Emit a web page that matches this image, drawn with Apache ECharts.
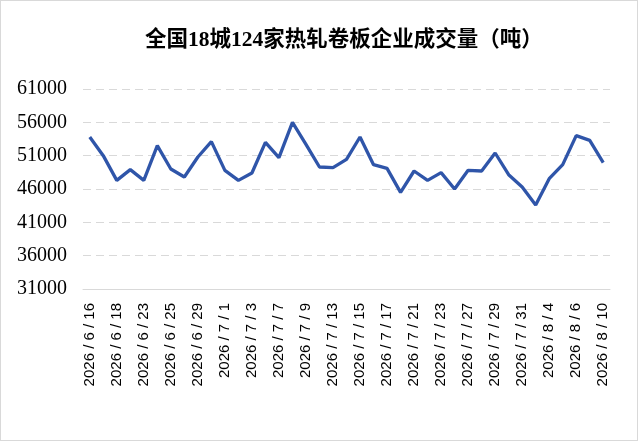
<!DOCTYPE html>
<html>
<head>
<meta charset="utf-8">
<script src="https://cdn.jsdelivr.net/npm/echarts@6/dist/echarts.min.js"></script>
<style>
    html, body {margin:0; padding:0; background:#fff}
    #chart {width:636px; height:439px; border:1px solid #d9d9d9}
</style>
</head>
<body>
<div id="chart"></div>
<script>
var dates = ['2026/6/16','2026/6/17','2026/6/18','2026/6/22','2026/6/23','2026/6/24','2026/6/25','2026/6/26',
    '2026/6/29','2026/6/30','2026/7/1','2026/7/2','2026/7/3','2026/7/6','2026/7/7','2026/7/8','2026/7/9',
    '2026/7/10','2026/7/13','2026/7/14','2026/7/15','2026/7/16','2026/7/17','2026/7/20','2026/7/21',
    '2026/7/22','2026/7/23','2026/7/24','2026/7/27','2026/7/28','2026/7/29','2026/7/30','2026/7/31',
    '2026/8/3','2026/8/4','2026/8/5','2026/8/6','2026/8/7','2026/8/10']
var volumes = [53800, 51000, 47300, 48900, 47300, 52500, 49000, 47800, 50800, 53100,
    48800, 47300, 48400, 53000, 50700, 56000, 52700, 49300, 49200, 50450,
    53800, 49650, 49100, 45500, 48700, 47300, 48450, 46000, 48800, 48700,
    51400, 48150, 46300, 43600, 47550, 49650, 54000, 53300, 49950]
var yTicks = {min: 31000, max: 61000, interval: 5000}

var myChart = echarts.init(document.getElementById('chart'))
var option = {
    animation: false,
    title: {
        text: '全国18城124家热轧卷板企业成交量（吨）',
        left: 139,
        top: 24,
        textStyle: {
            fontFamily: '"Liberation Serif", "Noto Sans CJK SC"',
            fontWeight: 'bold',
            fontSize: 21.5,
            color: '#000'
        }
    },
    grid: {left: 82, right: 27, top: 88, bottom: 151},
    xAxis: {
        type: 'category',
        data: dates,
        boundaryGap: true,
        axisLine: {lineStyle: {color: '#d9d9d9', width: 1}},
        axisTick: {show: false},
        axisLabel: {
            interval: 1,
            rotate: 90,
            margin: 14,
            fontFamily: '"Liberation Sans"',
            fontSize: 15,
            color: '#000',
            formatter: function(v){ return v.split('/').join(' / ') }
        }
    },
    yAxis: {
        type: 'value',
        min: yTicks.min,
        max: yTicks.max,
        interval: yTicks.interval,
        axisLine: {show: false},
        axisTick: {show: false},
        axisLabel: {
            margin: 16,
            fontFamily: '"Liberation Serif"',
            fontSize: 20,
            color: '#000',
            formatter: function(v){ return String(v) }
        },
        splitLine: {lineStyle: {color: '#d9d9d9', type: [8, 5], width: 1}}
    },
    series: [{
        type: 'line',
        data: volumes,
        showSymbol: false,
        lineStyle: {color: '#2f55a9', width: 3.3},
        itemStyle: {color: '#2f55a9'}
    }]
}
myChart.setOption(option)
</script>
</body>
</html>
